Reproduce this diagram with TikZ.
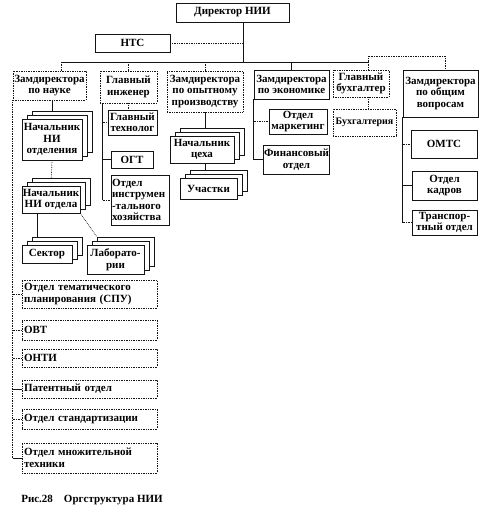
\documentclass[tikz,border=0pt]{standalone}
\usepackage{fontspec}
\setmainfont{Liberation Serif}
\usepackage{xcolor}
\usepackage{tikz}
\usetikzlibrary{shadows, backgrounds}
\definecolor{orgLine}{RGB}{20,20,20}
\definecolor{orgPaper}{RGB}{255,255,255}

\begin{document}
\begin{tikzpicture}[x=1pt, y=-1pt,
    unit/.style={draw=orgLine, fill=orgPaper, line width=0.7pt, align=center, inner sep=0.5pt,
      font=\bfseries\fontsize{11}{11.5}\selectfont},
    dunit/.style={unit, densely dotted},
    stack/.style={unit, copy shadow={shadow xshift=10pt, shadow yshift=8pt},
      copy shadow={shadow xshift=5pt, shadow yshift=4pt}},
    listbox/.style={dunit, text width=131pt, align=left, inner sep=2pt},
    link/.style={draw=orgLine, line width=0.7pt},
    dlink/.style={link, densely dotted}
  ]
    \useasboundingbox (0,0) rectangle (480,524);
    \node[unit, minimum width=113pt, minimum height=19pt] (dir) at (232.5,12.5) {Директор НИИ};
    \node[unit, minimum width=75pt, minimum height=18pt] (nts) at (132.5,43) {НТС};
    \node[dunit, minimum width=73pt, minimum height=29pt] (zdsci) at (49.5,85.5) {Замдиректора\\по науке};
    \node[dunit, minimum width=57pt, minimum height=32pt] (chiefeng) at (128.5,87) {Главный\\инженер};
    \node[dunit, minimum width=76pt, minimum height=41pt] (zdprod) at (205,91.5) {Замдиректора\\по опытному\\производству};
    \node[unit, minimum width=75pt, minimum height=29pt] (zdecon) at (291.5,84.5) {Замдиректора\\по экономике};
    \node[dunit, minimum width=56pt, minimum height=27pt] (chiefacc) at (361,83.5) {Главный\\бухгалтер};
    \node[unit, minimum width=75pt, minimum height=47pt] (zdgen) at (440.5,93.5) {Замдиректора\\по общим\\вопросам};
    \node[stack, minimum width=60pt, minimum height=41pt] (nio) at (52,139.5) {Начальник\\НИ\\отделения};
    \node[stack, minimum width=58pt, minimum height=27pt] (niotd) at (51,199.5) {Начальник\\НИ отдела};
    \node[stack, minimum width=50pt, minimum height=18pt] (sector) at (47,254) {Сектор};
    \node[stack, minimum width=57pt, minimum height=29pt] (labs) at (115.5,259.5) {Лаборато-\\рии};
    \node[unit, minimum width=49pt, minimum height=25pt] (chieftech) at (132.5,122.5) {Главный\\технолог};
    \node[unit, minimum width=42pt, minimum height=17pt] (ogt) at (132,159.5) {ОГТ};
    \node[unit, text width=57pt, align=left, minimum height=50pt] (instr) at (140.5,200) {Отдел\\инструмен\\-тального\\хозяйства};
    \node[stack, minimum width=64pt, minimum height=27pt] (shop) at (202,149.5) {Начальник\\цеха};
    \node[stack, minimum width=57pt, minimum height=21pt] (sites) at (208.5,188.5) {Участки};
    \node[unit, minimum width=58pt, minimum height=25pt] (mkt) at (298,121.5) {Отдел\\маркетинг};
    \node[unit, minimum width=65pt, minimum height=29pt] (fin) at (296.5,159.5) {Финансовый\\отдел};
    \node[dunit, minimum width=63pt, minimum height=27pt, font=\bfseries\fontsize{10}{11}\selectfont] (acct) at (364.5,122.5) {Бухгалтерия};
    \node[unit, minimum width=66pt, minimum height=28pt] (omts) at (444,144) {ОМТС};
    \node[unit, minimum width=65pt, minimum height=29pt] (hr) at (444.5,185.5) {Отдел\\кадров};
    \node[unit, minimum width=65pt, minimum height=25pt] (trans) at (444.5,222.5) {Транспор-\\тный отдел};
    \node[listbox, minimum height=28pt] (spu) at (89.5,294) {Отдел тематического\\планирования (СПУ)};
    \node[listbox, minimum height=20pt] (ovt) at (89.5,330) {ОВТ};
    \node[listbox, minimum height=18pt] (onti) at (89.5,358) {ОНТИ};
    \node[listbox, minimum height=18pt] (patent) at (89.5,389) {Патентный отдел};
    \node[listbox, minimum height=20pt] (std) at (89.5,419) {Отдел стандартизации};
    \node[listbox, minimum height=30pt] (print) at (89.5,458) {Отдел множительной\\техники};
    \node[font=\bfseries\fontsize{11}{12}\selectfont] (caption) at (92,500) {Рис.28\quad Оргструктура НИИ};
    \coordinate (busL) at (61,62);
    \coordinate (busR) at (368,62);
    \coordinate (dirj) at (243,62);
    \coordinate (busT) at (445,56);
    \coordinate (engsp) at ([xshift=3pt]chiefeng.south west);
    \begin{scope}[on background layer]
      \draw[link] (busL) -- (busR);
      \draw[link] (dir.south -| dirj) -- (dirj);
      \draw[dlink] (nts.east) -- (nts.east -| dirj);
      \draw[dlink] (busL) -- (zdsci.north -| busL);
      \draw[dlink] (chiefeng.north |- busL) -- (chiefeng.north);
      \draw[dlink] (zdprod.north |- busL) -- (zdprod.north);
      \draw[link] (zdecon.north |- busL) -- (zdecon.north);
      \draw[dlink] (busR) -- (chiefacc.north -| busR);
      \draw[dlink] (busR) |- (busT) -- (zdgen.north -| busT);
      \draw[dlink] (zdsci.south west) -- (zdsci.south west |- print.west);
      \draw[dlink] (zdsci.south west |- spu.west) -- (spu.west);
      \draw[dlink] (zdsci.south west |- ovt.west) -- (ovt.west);
      \draw[dlink] (zdsci.south west |- onti.west) -- (onti.west);
      \draw[link] (zdsci.south west |- patent.west) -- (patent.west);
      \draw[dlink] (zdsci.south west |- std.west) -- (std.west);
      \draw[link] (zdsci.south west |- print.west) -- (print.west);
      \draw[link] (nio.north |- zdsci.south) -- (nio.north);
      \draw[dlink] (nio.south) -- (niotd.north);
      \draw[link] ([xshift=-14pt]niotd.south) -- ([xshift=-14pt]niotd.south |- sector.north);
      \draw[dlink] (niotd.south east) -- ([xshift=10pt, yshift=8pt]labs.north west);
      \draw[dlink] (chiefeng.south) -- (chiefeng.south |- chieftech.north);
      \draw[link] (engsp) -- (engsp |- instr.west);
      \draw[dlink] (engsp |- chieftech.west) -- (chieftech.west);
      \draw[link] (engsp |- ogt.west) -- (ogt.west);
      \draw[dlink] (engsp |- instr.west) -- (instr.west);
      \draw[link] (zdprod.south) -- (zdprod.south |- shop.north);
      \draw[link] (zdprod.south |- shop.south) -- (zdprod.south |- sites.north);
      \draw[link] (zdecon.south west) |- (fin.west);
      \draw[dlink] (zdecon.south west |- mkt.west) -- (mkt.west);
      \draw[dlink] (chiefacc.south -| busR) -- (acct.north -| busR);
      \draw[link] (zdgen.south west) -- (zdgen.south west |- trans.west);
      \draw[dlink] (zdgen.south west |- omts.west) -- (omts.west);
      \draw[link] (zdgen.south west |- hr.west) -- (hr.west);
      \draw[dlink] (zdgen.south west |- trans.west) -- (trans.west);
    \end{scope}
  \end{tikzpicture}
\end{document}
